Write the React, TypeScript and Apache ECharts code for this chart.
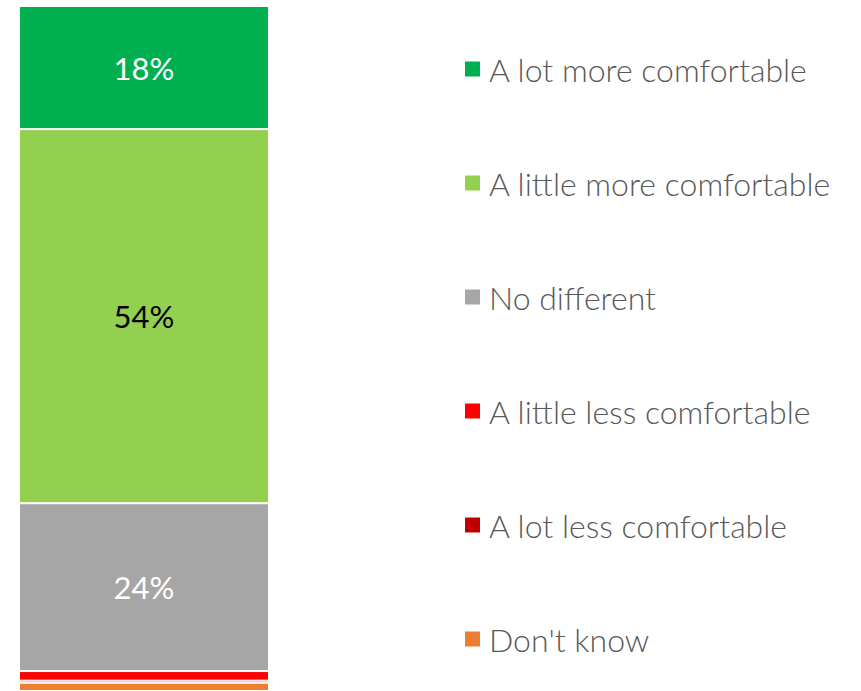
import React, { useEffect, useRef } from "react";
import * as echarts from "echarts";

const categories = ["All"];
const seriesNames = [
  "A lot more comfortable",
  "A little more comfortable",
  "No different",
  "A little less comfortable",
  "A lot less comfortable",
  "Don't know",
];
const seriesValues = [17.9, 54.4, 24.4, 1.4, 0.3, 1.2];
const seriesColors = ["#00B050", "#92D050", "#A6A6A6", "#FF0000", "#C00000", "#ED7D31"];
const labelColors = ["#FFFFFF", "#000000", "#FFFFFF", "", "", ""];
const labelMin = 5;

export default function App() {
  const ref = useRef<HTMLDivElement>(null);
  useEffect(() => {
    if (!ref.current) return;
    const chart = echarts.init(ref.current, null, { renderer: "svg" });
    const total = seriesValues.reduce((a, b) => a + b, 0);
    const order = [5, 4, 3, 2, 1, 0];
    const series = order.map((i) => ({
      name: seriesNames[i],
      type: "bar",
      stack: "total",
      barWidth: 250,
      data: [seriesValues[i]],
      itemStyle: { color: seriesColors[i], borderColor: "#FFFFFF", borderWidth: 1 },
      label: {
        show: seriesValues[i] >= labelMin,
        position: "inside",
        color: labelColors[i] || "#FFFFFF",
        fontFamily: "Lato",
        fontSize: 31,
        formatter: (p: any) => Math.round(p.value) + "%",
      },
    }));
    chart.setOption({
      animation: false,
      grid: { left: 19, top: 6, width: 250, height: 685 },
      xAxis: { type: "category", data: categories, show: false },
      yAxis: { type: "value", min: 0, max: total, show: false },
      legend: {
        orient: "vertical",
        left: 460,
        top: 48,
        data: seriesNames,
        itemWidth: 15,
        itemHeight: 15,
        itemGap: 82,
        icon: "rect",
        itemStyle: { borderWidth: 0 },
        textStyle: { fontFamily: "Lato", fontWeight: 300, fontSize: 32, color: "#595959", lineHeight: 30, padding: [0, 0, 0, 4] },
        selectedMode: false,
      },
      series,
    });
    return () => chart.dispose();
  }, []);
  return (
    <div
      ref={ref}
      style={{ position: "absolute", left: 0, top: 0, width: 861, height: 691 }}
    />
  );
}
